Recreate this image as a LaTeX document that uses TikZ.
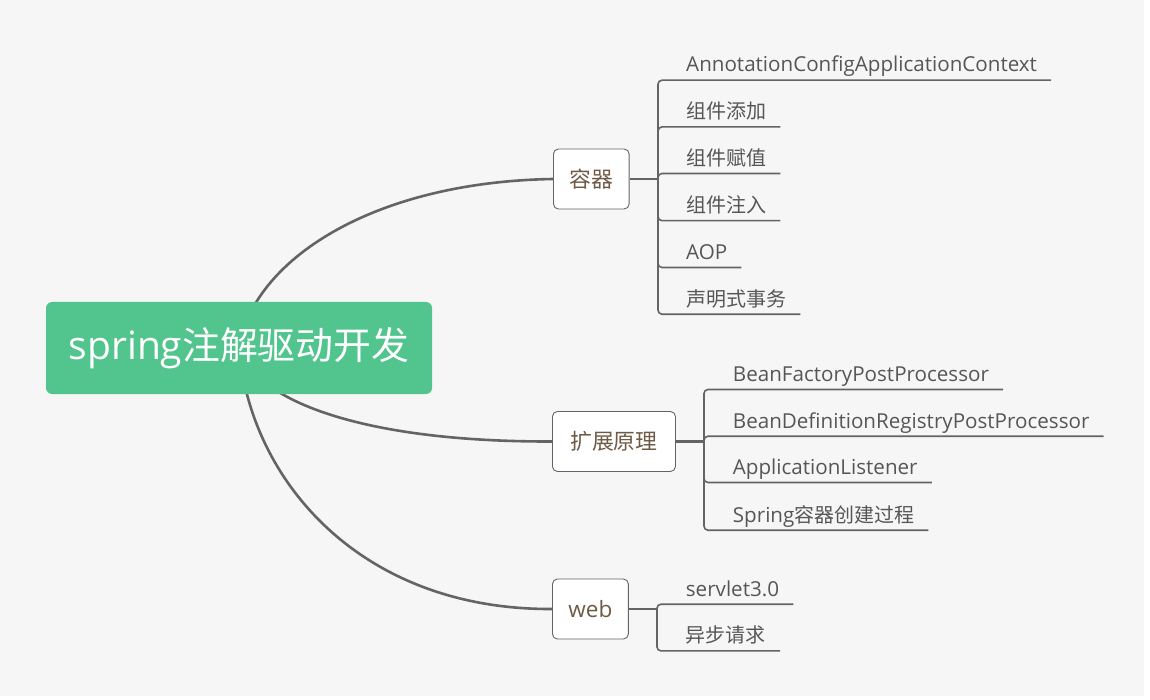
\documentclass[tikz,border=0pt]{standalone}
\usepackage{fontspec}
\setmainfont{Open Sans}
\newfontfamily\zh[Scale=0.97]{Noto Sans CJK SC}
\definecolor{bggray}{HTML}{F6F6F6}
\definecolor{rootgreen}{HTML}{52C48D}
\definecolor{linegray}{HTML}{646464}
\definecolor{boxtext}{HTML}{6E5A45}
\definecolor{leaftext}{HTML}{565656}

\begin{document}
\begin{tikzpicture}[x=1pt,y=-1pt,
  rootbox/.style={fill=rootgreen, rounded corners=6pt, text=white,
    minimum width=386pt, minimum height=92pt, font=\fontsize{39}{45}\selectfont},
  topic/.style={draw=linegray, fill=white, line width=0.9pt, rounded corners=5pt,
    anchor=west, minimum height=60pt, inner xsep=16pt, text=boxtext,
    font=\fontsize{22.5}{27}\selectfont},
  leaf/.style={anchor=base west, inner xsep=14pt, inner ysep=0pt, text depth=8pt,
    text=leaftext, font=\fontsize{20.6}{24}\selectfont},
  curve/.style={linegray, line width=2.6pt},
  stub/.style={linegray, line width=2.4pt},
  twig/.style={linegray, line width=1.6pt, rounded corners=4pt}]

\fill[bggray] (0,0) rectangle (1144,696);
\useasboundingbox (0,0) rectangle (1150,700);

\coordinate (rc) at (239,348);

% main topics
\node[topic] (box1) at (553,179) {\zh 容器};
\node[topic, minimum width=123pt] (box2) at (552,441.5) {\zh 扩展原理};
\node[topic] (box3) at (552,609) {web};

\draw[curve] (rc) .. controls (252,262) and (370,182) .. (box1.west);
\draw[curve] (rc) .. controls (255,400) and (360,442) .. (box2.west);
\draw[curve] (rc) .. controls (250,480) and (360,610) .. (box3.west);

\node[rootbox] (root) at (rc) {spring{\zh 注解驱动开发}};

% container
\coordinate (k1) at (658,179);
\draw[stub] (box1.east) -- (k1);

\node[leaf] (a1) at (672,72) {AnnotationConfigApplicationContext};
\node[leaf] (a2) at (672,118.7) {\zh 组件添加};
\node[leaf] (a3) at (672,165.3) {\zh 组件赋值};
\node[leaf] (a4) at (672,212.5) {\zh 组件注入};
\node[leaf] (a5) at (672,259.3) {AOP};
\node[leaf] (a6) at (672,306) {\zh 声明式事务};

\draw[twig] (k1) |- (a1.south east);
\draw[twig] (k1) |- (a2.south east);
\draw[twig] (k1) |- (a3.south east);
\draw[twig] (k1) |- (a4.south east);
\draw[twig] (k1) |- (a5.south east);
\draw[twig] (k1) |- (a6.south east);

% extension
\coordinate (k2) at (704,441.5);
\draw[stub] (box2.east) -- (k2);

\node[leaf] (b1) at (718.7,381.3) {BeanFactoryPostProcessor};
\node[leaf] (b2) at (718.7,428) {BeanDefinitionRegistryPostProcessor};
\node[leaf] (b3) at (718.7,474.3) {ApplicationListener};
\node[leaf] (b4) at (718.7,522) {Spring{\zh 容器创建过程}};

\draw[twig] (k2) |- (b1.south east);
\draw[twig] (k2) |- (b2.south east);
\draw[twig] (k2) |- (b3.south east);
\draw[twig] (k2) |- (b4.south east);

% web
\coordinate (k3) at (657,609);
\draw[stub] (box3.east) -- (k3);

\node[leaf] (c1) at (671.7,596) {servlet3.0};
\node[leaf] (c2) at (671.7,642.7) {\zh 异步请求};

\draw[twig] (k3) |- (c1.south east);
\draw[twig] (k3) |- (c2.south east);

\end{tikzpicture}
\end{document}
